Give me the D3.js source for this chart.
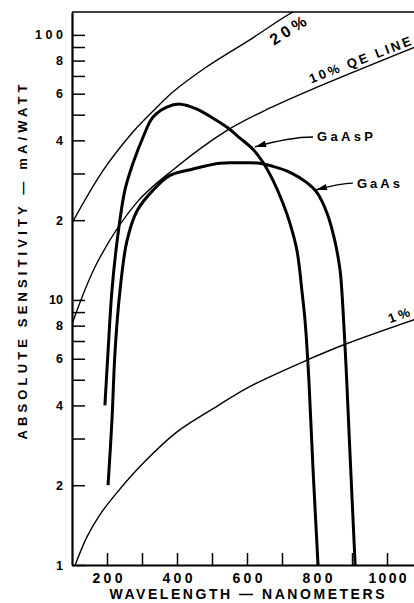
<!DOCTYPE html>
<html><head><meta charset="utf-8">
<script src="https://cdn.jsdelivr.net/npm/d3@7"></script>
<style>html,body{margin:0;padding:0;background:#fff;} svg{display:block;}</style>
</head><body><svg id="chart" width="414" height="603"></svg>
<script>
// ---- data (wavelength nm, absolute sensitivity mA/W) ----
const wavelengthTicks = [200, 300, 400, 500, 600, 700, 800, 900, 1000];
const wavelengthLabels = [200, 400, 600, 800, 1000];
const sensitivityTicks = [1, 2, 3, 4, 5, 6, 7, 8, 9, 10, 20, 30, 40, 50, 60, 70, 80, 90, 100];
const sensitivityLabelValues = [1, 2, 4, 6, 8, 10, 20, 40, 60, 80, 100];
const sensitivityLabelTexts = ["1", "2", "4", "6", "8", "10", "2", "4", "6", "8", "100"];

const gaAsP = [[194,4.0],[203,6.4],[214,10.8],[229,16.7],[251,25.9],[274,32.7],[303,41.1],[331,48.9],
  [371,53.4],[409,54.8],[457,52.5],[503,48.5],[543,44.8],[580,40.8],[617,37.0],[646,33.0],[674,28.3],
  [703,23.1],[723,19.4],[743,15.3],[757,10.8],[766,8.3],[777,4.93],[789,2.25],[803,1.0]];
const gaAs = [[203,2.0],[214,3.48],[223,6.4],[237,10.8],[257,16.7],[286,21.7],[331,25.9],[380,29.5],
  [446,31.2],[523,32.8],[580,32.9],[637,32.8],[674,31.9],[723,30.3],[771,27.7],[800,25.4],[829,21.2],
  [851,16.7],[866,12.9],[871,10.8],[883,5.6],[894,2.68],[909,1.0]];
const qe20 = [[100,19.5],[189,30.8],[274,43],[331,51.5],[389,61],[480,75],[609,96],[731,122],[800,135]];
const qe10 = [[100,8.1],[174,14],[286,23.4],[389,31],[543,43.6],[666,53],[800,63.5],[1080,90]];
const qe1 = [[109,1.0],[143,1.28],[180,1.55],[229,1.88],[303,2.42],[400,3.18],[514,3.97],[609,4.72],
  [774,5.95],[886,6.85],[1080,8.45]];

const seriesLabels = ["GaAsP", "GaAs"];
const qeLabels = ["20%", "10% QE LINE", "1%"];

// ---- scales ----
const svg = d3.select("#chart");
const x = d3.scaleLinear().domain([100, 1080]).range([72, 415]);
const y = d3.scaleLog().domain([1, 122]).range([565, 12]);
const FONT = "'Liberation Sans', Arial, sans-serif";

svg.append("rect").attr("width", 414).attr("height", 603).attr("fill", "#fff");

svg.append("defs").append("clipPath").attr("id", "plot")
  .append("rect").attr("x", x(100)).attr("y", y(122)).attr("width", x(1080) - x(100)).attr("height", y(1) - y(122));

// top border
svg.append("line").attr("x1", x(100)).attr("x2", x(1080)).attr("y1", y(122)).attr("y2", y(122))
  .attr("stroke", "#000").attr("stroke-width", 1.6);

const line = d3.line().x(d => x(d[0])).y(d => y(d[1])).curve(d3.curveCatmullRom.alpha(0.5));
const g = svg.append("g").attr("clip-path", "url(#plot)");
[qe20, qe10, qe1].forEach(s => g.append("path").attr("d", line(s)).attr("fill", "none")
  .attr("stroke", "#000").attr("stroke-width", 1.4));
[gaAsP, gaAs].forEach(s => g.append("path").attr("d", line(s)).attr("fill", "none")
  .attr("stroke", "#000").attr("stroke-width", 3).attr("stroke-linejoin", "round"));

// axes
const labelMap = new Map(sensitivityLabelValues.map((v, i) => [v, sensitivityLabelTexts[i]]));
const yAxis = svg.append("g").attr("transform", `translate(${x(100)},0)`)
  .call(d3.axisLeft(y).tickValues(sensitivityTicks).tickSize(-13).tickSizeOuter(0).tickPadding(9)
    .tickFormat(v => labelMap.get(v) || ""));
const xAxis = svg.append("g").attr("transform", `translate(0,${y(1)})`)
  .call(d3.axisBottom(x).tickValues(wavelengthTicks).tickSize(-12).tickSizeOuter(0).tickPadding(8)
    .tickFormat(v => wavelengthLabels.includes(v) ? v : ""));
[yAxis, xAxis].forEach(a => {
  a.select(".domain").attr("stroke", "#000").attr("stroke-width", 2.2);
  a.selectAll(".tick line").attr("stroke", "#000").attr("stroke-width", 1.5);
  a.selectAll("text").attr("fill", "#000").style("font-family", FONT).style("font-weight", "bold");
});
yAxis.selectAll("text").style("font-size", "12.5px")
  .filter(function(){ return this.textContent === "100"; }).attr("textLength", 28).attr("lengthAdjust", "spacing");
xAxis.selectAll("text").style("font-size", "14px")
  .filter(function(){ return this.textContent !== ""; })
  .attr("textLength", function(){ return this.textContent.length > 3 ? 38 : 30; }).attr("lengthAdjust", "spacing");

// axis titles
svg.append("text").attr("transform", "translate(22,262) rotate(-90)")
  .attr("text-anchor", "middle").attr("dominant-baseline", "central")
  .attr("textLength", 355).attr("lengthAdjust", "spacing")
  .style("font-family", FONT).style("font-weight", "bold").style("font-size", "13px")
  .text("ABSOLUTE SENSITIVITY — mA/WATT");
svg.append("text").attr("x", 247).attr("y", 594)
  .attr("text-anchor", "middle").attr("dominant-baseline", "central")
  .attr("textLength", 275).attr("lengthAdjust", "spacing")
  .style("font-family", FONT).style("font-weight", "bold").style("font-size", "14px")
  .text("WAVELENGTH — NANOMETERS");

// QE line labels (placed in data space)
const qeLabelPos = [[717, 104, -32, 16, 40], [923, 80.5, -21, 13, 108], [1034, 8.75, -20, 13, 22]];
qeLabels.forEach((t, i) => {
  const [lx, ly, rot, fs, len] = qeLabelPos[i];
  svg.append("text").attr("transform", `translate(${x(lx)},${y(ly)}) rotate(${rot})`)
    .attr("text-anchor", "middle").attr("dominant-baseline", "central")
    .attr("textLength", len).attr("lengthAdjust", "spacing")
    .style("font-family", FONT).style("font-weight", "bold").style("font-size", fs + "px")
    .text(t);
});

// series labels with leader arrows
const seriesLabelPos = [[800, 41.2, 623, 37.8, 56], [914, 27.6, 797, 26.0, 43]];
seriesLabels.forEach((t, i) => {
  const [tx, ty, ax, ay, len] = seriesLabelPos[i];
  const px = x(tx), py = y(ty), qx = x(ax), qy = y(ay);
  svg.append("text").attr("x", px).attr("y", py).attr("dominant-baseline", "central")
    .attr("textLength", len).attr("lengthAdjust", "spacing")
    .style("font-family", FONT).style("font-weight", "bold").style("font-size", "13px").text(t);
  const sx = px - 4, sy = py, cx = (sx + qx) / 2 + 6, cy = sy;
  svg.append("path").attr("d", `M${sx},${sy} Q${cx},${cy} ${qx},${qy}`)
    .attr("fill", "none").attr("stroke", "#000").attr("stroke-width", 1.4);
  const ang = Math.atan2(qy - cy, qx - cx);
  const L = 11, Wd = 3.2;
  const bx = qx - L * Math.cos(ang), by = qy - L * Math.sin(ang);
  const nx = -Math.sin(ang), ny = Math.cos(ang);
  svg.append("path").attr("d", `M${qx},${qy} L${bx + nx * Wd},${by + ny * Wd} L${bx - nx * Wd},${by - ny * Wd} Z`)
    .attr("fill", "#000");
});
</script></body></html>
